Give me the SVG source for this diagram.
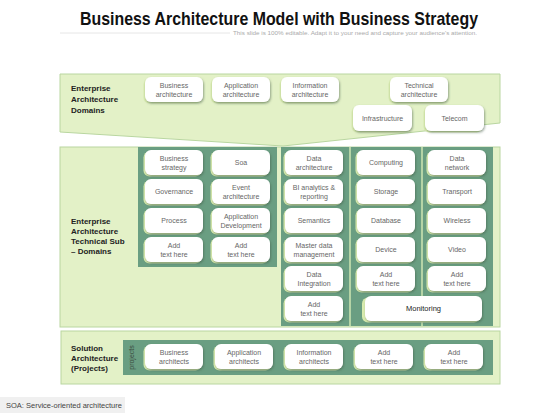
<svg xmlns="http://www.w3.org/2000/svg" width="560" height="420" viewBox="0 0 560 420">
<defs>
<filter id="ds" x="-20%" y="-20%" width="140%" height="160%">
<feDropShadow dx="0.8" dy="1.5" stdDeviation="0.9" flood-color="#3d5a45" flood-opacity="0.55"/>
</filter>
</defs>
<style>
.panel{fill:#e3f1c7;stroke:#b9d6a0;stroke-width:1}
.dark{fill:#6a9e82}
.sep{stroke:#cfe6b2;stroke-width:1.5}
.bx{fill:#ffffff;filter:url(#ds)}
.bk{fill:#d9ecaf}
.t{font-family:"Liberation Sans",Arial,sans-serif;font-size:7px;fill:#666;text-anchor:middle}
.lab{font-family:"Liberation Sans",Arial,sans-serif;font-size:8px;font-weight:bold;fill:#222}
</style>
<rect width="560" height="420" fill="#ffffff"/>
<text x="279" y="25" font-family="Liberation Sans, Arial, sans-serif" font-size="18.5" font-weight="bold" fill="#111" text-anchor="middle" textLength="398" lengthAdjust="spacingAndGlyphs">Business Architecture Model with Business Strategy</text>
<line x1="60" y1="33" x2="230" y2="33" stroke="#e6e6e6" stroke-width="1"/>
<text x="233" y="35" font-family="Liberation Sans, Arial, sans-serif" font-size="5.8" fill="#aaa" textLength="244" lengthAdjust="spacingAndGlyphs">This slide is 100% editable. Adapt it to your need and capture your audience's attention.</text>

<g id="panel-domains">
<polygon class="panel" points="60,74 500,74 500,123 283,146 60,132"/>
<text class="lab" x="71" y="91">Enterprise</text>
<text class="lab" x="71" y="102">Architecture</text>
<text class="lab" x="71" y="113">Domains</text>
</g>
<g id="panel-tech">
<rect class="panel" x="60" y="147" width="440" height="180"/>
<rect class="dark" x="138" y="147" width="139" height="120"/>
<rect class="dark" x="281" y="147" width="212" height="179"/>
<line class="sep" x1="350" y1="147" x2="350" y2="326"/>
<line class="sep" x1="422" y1="147" x2="422" y2="326"/>
<text class="lab" x="71" y="224">Enterprise</text>
<text class="lab" x="71" y="234">Architecture</text>
<text class="lab" x="71" y="244">Technical Sub</text>
<text class="lab" x="71" y="254">– Domains</text>
</g>
<g id="panel-solution">
<rect class="panel" x="61" y="331" width="439" height="53"/>
<rect class="dark" x="123" y="340" width="370" height="35"/>
<text x="134" y="357.5" transform="rotate(-90 134 357.5)" font-family="Liberation Sans, Arial, sans-serif" font-size="7" fill="#3a4a3e" text-anchor="middle">projects</text>
<text class="lab" x="71" y="351">Solution</text>
<text class="lab" x="71" y="361">Architecture</text>
<text class="lab" x="71" y="371">(Projects)</text>
</g>

<g id="connectors"></g>

<g id="n-business-architecture"><rect class="bk" x="143.5" y="78.5" width="58" height="25" rx="6"/><rect class="bx" x="145" y="77" width="58" height="25" rx="6"/><text class="t" x="174" y="88">Business</text><text class="t" x="174" y="97">architecture</text></g>
<g id="n-application-architecture"><rect class="bk" x="210.5" y="78.5" width="58" height="25" rx="6"/><rect class="bx" x="212" y="77" width="58" height="25" rx="6"/><text class="t" x="241" y="88">Application</text><text class="t" x="241" y="97">architecture</text></g>
<g id="n-information-architecture"><rect class="bk" x="279.5" y="78.5" width="58" height="25" rx="6"/><rect class="bx" x="281" y="77" width="58" height="25" rx="6"/><text class="t" x="310" y="88">Information</text><text class="t" x="310" y="97">architecture</text></g>
<g id="n-technical-architecture"><rect class="bk" x="388.5" y="78.5" width="58" height="25" rx="6"/><rect class="bx" x="390" y="77" width="58" height="25" rx="6"/><text class="t" x="419" y="88">Technical</text><text class="t" x="419" y="97">architecture</text></g>
<g id="n-infrastructure"><rect class="bk" x="351.5" y="106.5" width="59" height="26" rx="6"/><rect class="bx" x="353" y="105" width="59" height="26" rx="6"/><text class="t" x="382.5" y="120.5">Infrastructure</text></g>
<g id="n-telecom"><rect class="bk" x="423.5" y="106.5" width="59" height="26" rx="6"/><rect class="bx" x="425" y="105" width="59" height="26" rx="6"/><text class="t" x="454.5" y="120.5">Telecom</text></g>

<g id="n-business-strategy"><rect class="bk" x="143.5" y="151.5" width="58" height="25" rx="6"/><rect class="bx" x="145" y="150" width="58" height="25" rx="6"/><text class="t" x="174" y="161">Business</text><text class="t" x="174" y="170">strategy</text></g>
<g id="n-governance"><rect class="bk" x="143.5" y="180.5" width="58" height="25" rx="6"/><rect class="bx" x="145" y="179" width="58" height="25" rx="6"/><text class="t" x="174" y="194">Governance</text></g>
<g id="n-process"><rect class="bk" x="143.5" y="209.5" width="58" height="25" rx="6"/><rect class="bx" x="145" y="208" width="58" height="25" rx="6"/><text class="t" x="174" y="223">Process</text></g>
<g id="n-add-c1"><rect class="bk" x="143.5" y="238.5" width="58" height="25" rx="6"/><rect class="bx" x="145" y="237" width="58" height="25" rx="6"/><text class="t" x="174" y="248">Add</text><text class="t" x="174" y="257">text here</text></g>

<g id="n-soa"><rect class="bk" x="210.5" y="151.5" width="58" height="25" rx="6"/><rect class="bx" x="212" y="150" width="58" height="25" rx="6"/><text class="t" x="241" y="165">Soa</text></g>
<g id="n-event-architecture"><rect class="bk" x="210.5" y="180.5" width="58" height="25" rx="6"/><rect class="bx" x="212" y="179" width="58" height="25" rx="6"/><text class="t" x="241" y="190">Event</text><text class="t" x="241" y="199">architecture</text></g>
<g id="n-application-development"><rect class="bk" x="210.5" y="209.5" width="58" height="25" rx="6"/><rect class="bx" x="212" y="208" width="58" height="25" rx="6"/><text class="t" x="241" y="219">Application</text><text class="t" x="241" y="228">Development</text></g>
<g id="n-add-c2"><rect class="bk" x="210.5" y="238.5" width="58" height="25" rx="6"/><rect class="bx" x="212" y="237" width="58" height="25" rx="6"/><text class="t" x="241" y="248">Add</text><text class="t" x="241" y="257">text here</text></g>

<g id="n-data-architecture"><rect class="bk" x="283.5" y="151.5" width="58" height="25" rx="6"/><rect class="bx" x="285" y="150" width="58" height="25" rx="6"/><text class="t" x="314" y="161">Data</text><text class="t" x="314" y="170">architecture</text></g>
<g id="n-bi-analytics"><rect class="bk" x="283.5" y="180.5" width="58" height="25" rx="6"/><rect class="bx" x="285" y="179" width="58" height="25" rx="6"/><text class="t" x="314" y="190">BI analytics &amp;</text><text class="t" x="314" y="199">reporting</text></g>
<g id="n-semantics"><rect class="bk" x="283.5" y="209.5" width="58" height="25" rx="6"/><rect class="bx" x="285" y="208" width="58" height="25" rx="6"/><text class="t" x="314" y="223">Semantics</text></g>
<g id="n-master-data"><rect class="bk" x="283.5" y="238.5" width="58" height="25" rx="6"/><rect class="bx" x="285" y="237" width="58" height="25" rx="6"/><text class="t" x="314" y="248">Master data</text><text class="t" x="314" y="257">management</text></g>
<g id="n-data-integration"><rect class="bk" x="283.5" y="267.5" width="58" height="25" rx="6"/><rect class="bx" x="285" y="266" width="58" height="25" rx="6"/><text class="t" x="314" y="277">Data</text><text class="t" x="314" y="286">Integration</text></g>
<g id="n-add-c3"><rect class="bk" x="283.5" y="297.5" width="58" height="25" rx="6"/><rect class="bx" x="285" y="296" width="58" height="25" rx="6"/><text class="t" x="314" y="307">Add</text><text class="t" x="314" y="316">text here</text></g>

<g id="n-computing"><rect class="bk" x="355.5" y="151.5" width="58" height="25" rx="6"/><rect class="bx" x="357" y="150" width="58" height="25" rx="6"/><text class="t" x="386" y="165">Computing</text></g>
<g id="n-storage"><rect class="bk" x="355.5" y="180.5" width="58" height="25" rx="6"/><rect class="bx" x="357" y="179" width="58" height="25" rx="6"/><text class="t" x="386" y="194">Storage</text></g>
<g id="n-database"><rect class="bk" x="355.5" y="209.5" width="58" height="25" rx="6"/><rect class="bx" x="357" y="208" width="58" height="25" rx="6"/><text class="t" x="386" y="223">Database</text></g>
<g id="n-device"><rect class="bk" x="355.5" y="238.5" width="58" height="25" rx="6"/><rect class="bx" x="357" y="237" width="58" height="25" rx="6"/><text class="t" x="386" y="252">Device</text></g>
<g id="n-add-c4"><rect class="bk" x="355.5" y="267.5" width="58" height="25" rx="6"/><rect class="bx" x="357" y="266" width="58" height="25" rx="6"/><text class="t" x="386" y="277">Add</text><text class="t" x="386" y="286">text here</text></g>

<g id="n-data-network"><rect class="bk" x="426.5" y="151.5" width="58" height="25" rx="6"/><rect class="bx" x="428" y="150" width="58" height="25" rx="6"/><text class="t" x="457" y="161">Data</text><text class="t" x="457" y="170">network</text></g>
<g id="n-transport"><rect class="bk" x="426.5" y="180.5" width="58" height="25" rx="6"/><rect class="bx" x="428" y="179" width="58" height="25" rx="6"/><text class="t" x="457" y="194">Transport</text></g>
<g id="n-wireless"><rect class="bk" x="426.5" y="209.5" width="58" height="25" rx="6"/><rect class="bx" x="428" y="208" width="58" height="25" rx="6"/><text class="t" x="457" y="223">Wireless</text></g>
<g id="n-video"><rect class="bk" x="426.5" y="238.5" width="58" height="25" rx="6"/><rect class="bx" x="428" y="237" width="58" height="25" rx="6"/><text class="t" x="457" y="252">Video</text></g>
<g id="n-add-c5"><rect class="bk" x="426.5" y="267.5" width="58" height="25" rx="6"/><rect class="bx" x="428" y="266" width="58" height="25" rx="6"/><text class="t" x="457" y="277">Add</text><text class="t" x="457" y="286">text here</text></g>

<g id="n-monitoring"><rect class="bk" x="362" y="297.5" width="118" height="25" rx="6"/><rect class="bx" x="365" y="296" width="117" height="25" rx="6"/><text class="t" x="423.5" y="311" style="fill:#222;font-size:7.5px">Monitoring</text></g>

<g id="n-business-architects"><rect class="bk" x="143.5" y="345.5" width="58" height="25" rx="6"/><rect class="bx" x="145" y="344" width="58" height="25" rx="6"/><text class="t" x="174" y="355">Business</text><text class="t" x="174" y="364">architects</text></g>
<g id="n-application-architects"><rect class="bk" x="213.5" y="345.5" width="58" height="25" rx="6"/><rect class="bx" x="215" y="344" width="58" height="25" rx="6"/><text class="t" x="244" y="355">Application</text><text class="t" x="244" y="364">architects</text></g>
<g id="n-information-architects"><rect class="bk" x="283.5" y="345.5" width="58" height="25" rx="6"/><rect class="bx" x="285" y="344" width="58" height="25" rx="6"/><text class="t" x="314" y="355">Information</text><text class="t" x="314" y="364">architects</text></g>
<g id="n-add-p1"><rect class="bk" x="353.5" y="345.5" width="58" height="25" rx="6"/><rect class="bx" x="355" y="344" width="58" height="25" rx="6"/><text class="t" x="384" y="355">Add</text><text class="t" x="384" y="364">text here</text></g>
<g id="n-add-p2"><rect class="bk" x="423.5" y="345.5" width="58" height="25" rx="6"/><rect class="bx" x="425" y="344" width="58" height="25" rx="6"/><text class="t" x="454" y="355">Add</text><text class="t" x="454" y="364">text here</text></g>

<g id="footer">
<rect x="0" y="397" width="125" height="16" fill="#f0f0f0"/>
<text x="6" y="408" font-family="Liberation Sans, Arial, sans-serif" font-size="7.5" fill="#444">SOA: Service-oriented architecture</text>
</g>
</svg>
